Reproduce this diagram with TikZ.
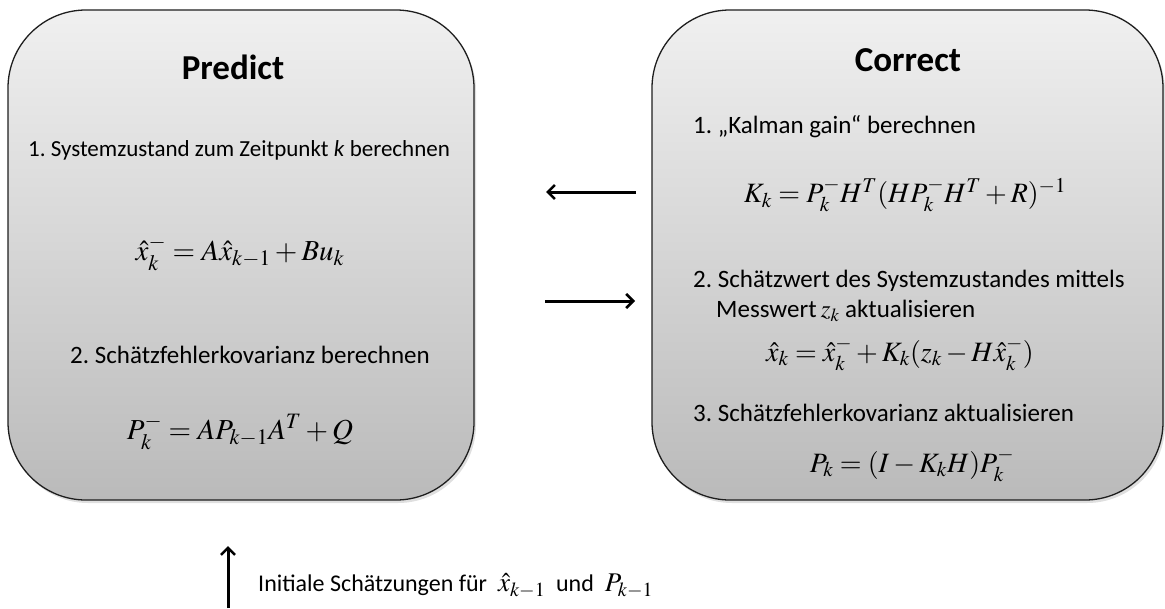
\documentclass[tikz,border=0pt]{standalone}
\usepackage{mathptmx}
\usepackage[no-math]{fontspec}
\setmainfont{Carlito}
\usetikzlibrary{shadows,arrows.meta}

% slightly larger indices in the formulas
\DeclareMathSizes{29}{29}{22}{17}
\DeclareMathSizes{28}{28}{21}{16}
\DeclareMathSizes{27}{27}{20}{15}

\definecolor{boxtop}{RGB}{240,240,240}
\definecolor{boxbot}{RGB}{186,186,186}
\definecolor{boxline}{RGB}{30,30,30}

\tikzset{
  phase/.style={draw=boxline, line width=1.3pt, rounded corners=78pt,
    top color=boxtop, bottom color=boxbot, inner sep=0pt,
    drop shadow={opacity=0.25, shadow xshift=2pt, shadow yshift=-3pt}},
  heading/.style={font=\fontsize{35}{38}\selectfont\bfseries, inner sep=0pt},
  txt/.style={font=\fontsize{25}{30}\selectfont, inner sep=0pt},
  eq/.style={font=\fontsize{29}{32}\selectfont, inner sep=0pt},
  eqs/.style={font=\fontsize{28}{31}\selectfont, inner sep=0pt},
  flow/.style={line width=3pt, -{Straight Barb[length=7pt,width=14pt,line width=2.6pt]}},
}
\newcommand{\initmath}[1]{{\fontsize{27}{30}\selectfont$#1$}}

\begin{document}
\frenchspacing
\begin{tikzpicture}[x=1pt,y=-1pt]
\useasboundingbox (0,0) rectangle (1165,608);

% the two phases of the filter
\node[phase, minimum width=466pt, minimum height=490pt] (pred) at (241,255) {};
\node[phase, minimum width=511pt, minimum height=490pt] (corr) at (907.5,255) {};

% Predict
\node[heading] (ph) at (233,67) {Predict};
\node[txt, font=\fontsize{23}{28}\selectfont] (p1) at (239,150) {1. Systemzustand zum Zeitpunkt \textit{k} berechnen};
\node[eq] (pe1) at (240,253) {$\hat{x}_k^- = A\hat{x}_{k-1} + Bu_k$};
\node[txt] (p2) at (250,355) {2. Schätzfehlerkovarianz berechnen};
\node[eq] (pe2) at (240,432) {$P_k^- = AP_{k-1}A^T + Q$};

% Correct
\node[heading] (ch) at (908,60) {Correct};
\node[txt, anchor=west] (c1) at (693,127) {1. „Kalman gain“ berechnen};
\node[eqs] (ce1) at (905,195) {$K_k = P_k^- H^T (HP_k^- H^T + R)^{-1}$};
\node[txt, anchor=west] (c2) at (693,281) {2. Schätzwert des Systemzustandes mittels};
\node[txt, anchor=west] (c2b) at (716,311) {Messwert\,$z_k$ aktualisieren};
\node[eqs] (ce2) at (900,354) {$\hat{x}_k = \hat{x}_k^- + K_k(z_k - H\hat{x}_k^-)$};
\node[txt, anchor=west] (c3) at (693,413) {3. Schätzfehlerkovarianz aktualisieren};
\node[eqs] (ce3) at (912,465) {$P_k = (I - K_kH)P_k^-$};

% initial values
\node[txt, anchor=west, font=\fontsize{24}{28}\selectfont] (init) at (258,586) {Initiale Schätzungen für \ \initmath{\hat{x}_{k-1}} \ und \ \initmath{P_{k-1}}};

% connectors between the phases
\coordinate (la) at (636,192);
\coordinate (lb) at (546,192);
\coordinate (ra) at (545,301);
\coordinate (rb) at (635,301);
\coordinate (ua) at (228,608);
\coordinate (ub) at (228,546);
\draw[flow] (la) -- (lb);
\draw[flow] (ra) -- (rb);
\draw[flow] (ua) -- (ub);
\end{tikzpicture}
\end{document}
